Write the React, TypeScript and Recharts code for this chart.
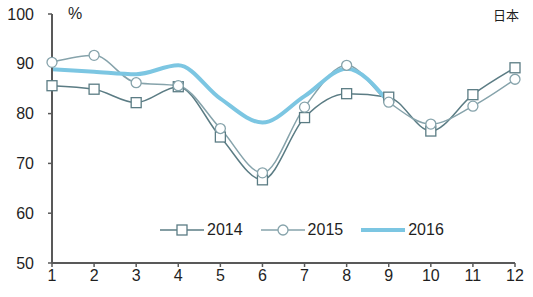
import React from "react";
import { LineChart, Line, XAxis, YAxis } from "recharts";

const months = [1, 2, 3, 4, 5, 6, 7, 8, 9, 10, 11, 12];
const s2014 = [85.6, 84.9, 82.2, 85.4, 75.3, 66.7, 79.2, 84.0, 83.3, 76.5, 83.8, 89.2];
const s2015 = [90.3, 91.7, 86.2, 85.6, 77.0, 68.1, 81.3, 89.7, 82.3, 77.9, 81.5, 86.9];
const s2016: (number | null)[] = [88.9, 88.4, 87.9, 89.7, 83.0, 78.2, 83.5, 89.0, 82.3, null, null, null];
const yTicks = [50, 60, 70, 80, 90, 100];
const seriesNames = ["2014", "2015", "2016"];

const data = months.map((m, i) => ({
  month: m,
  "2014": s2014[i],
  "2015": s2015[i],
  "2016": s2016[i],
}));

const C2014 = "#5b7c84";
const C2015 = "#86a3ab";
const C2016 = "#7cc6e2";
const AXIS = "#595959";
const FONT = "'Liberation Sans', Arial, sans-serif";

const SquareDot = (props: any) => {
  const { cx, cy } = props;
  if (cx == null || cy == null) return null;
  return <rect x={cx - 5} y={cy - 5} width={10} height={10} fill="#fff" stroke={C2014} strokeWidth={1.3} />;
};

const CircleDot = (props: any) => {
  const { cx, cy } = props;
  if (cx == null || cy == null) return null;
  return <circle cx={cx} cy={cy} r={5} fill="#fff" stroke={C2015} strokeWidth={1.3} />;
};

const LegendBox = () => {
  const items = [
    { name: seriesNames[0], color: C2014, kind: "square" },
    { name: seriesNames[1], color: C2015, kind: "circle" },
    { name: seriesNames[2], color: C2016, kind: "line" },
  ];
  return (
    <div style={{ position: "absolute", left: 160, top: 221, display: "flex", alignItems: "center", fontFamily: FONT, fontSize: 16, color: "#1f1f1f" }}>
      {items.map((it, idx) => (
        <div key={it.name} style={{ display: "flex", alignItems: "center", marginRight: idx < 2 ? 18 : 0 }}>
          <svg width={44} height={14} style={{ display: "block" }}>
            <line x1={0} y1={7} x2={44} y2={7} stroke={it.color} strokeWidth={it.kind === "line" ? 4 : 1.5} />
            {it.kind === "square" && <rect x={17} y={2} width={10} height={10} fill="#fff" stroke={it.color} strokeWidth={1.3} />}
            {it.kind === "circle" && <circle cx={22} cy={7} r={5} fill="#fff" stroke={it.color} strokeWidth={1.3} />}
          </svg>
          <span style={{ marginLeft: 3 }}>{it.name}</span>
        </div>
      ))}
    </div>
  );
};

export default function App() {
  return (
    <div style={{ position: "absolute", left: 0, top: 0, width: 533, height: 297, background: "#fff" }}>
      <LineChart width={533} height={297} data={data} margin={{ top: 14, right: 18, bottom: 0, left: 0 }}>
        <XAxis
          dataKey="month"
          type="number"
          domain={[1, 12]}
          ticks={months}
          height={34}
          stroke={AXIS}
          strokeWidth={2}
          tickSize={4}
          tickMargin={3}
          tick={{ fill: "#1f1f1f", fontSize: 16, fontFamily: FONT }}
          tickLine={{ stroke: AXIS, strokeWidth: 1.5 }}
        />
        <YAxis
          width={52}
          domain={[50, 100]}
          ticks={yTicks}
          stroke={AXIS}
          strokeWidth={2}
          tickSize={4}
          tickMargin={14}
          tick={{ fill: "#1f1f1f", fontSize: 16, fontFamily: FONT }}
          tickLine={{ stroke: AXIS, strokeWidth: 1.5 }}
        />
        <Line type="monotone" dataKey="2014" stroke={C2014} strokeWidth={1.5} dot={<SquareDot />} isAnimationActive={false} />
        <Line type="monotone" dataKey="2015" stroke={C2015} strokeWidth={1.5} dot={<CircleDot />} isAnimationActive={false} />
        <Line type="monotone" dataKey="2016" stroke={C2016} strokeWidth={4} dot={false} isAnimationActive={false} connectNulls={false} />
      </LineChart>
      <LegendBox />
      <div style={{ position: "absolute", left: 68, top: 5, fontFamily: FONT, fontSize: 16, color: "#1f1f1f" }}>%</div>
      <div style={{ position: "absolute", left: 493, top: 5, fontFamily: "'Noto Sans CJK SC', sans-serif", fontSize: 13, color: "#1f1f1f" }}>日本</div>
    </div>
  );
}
